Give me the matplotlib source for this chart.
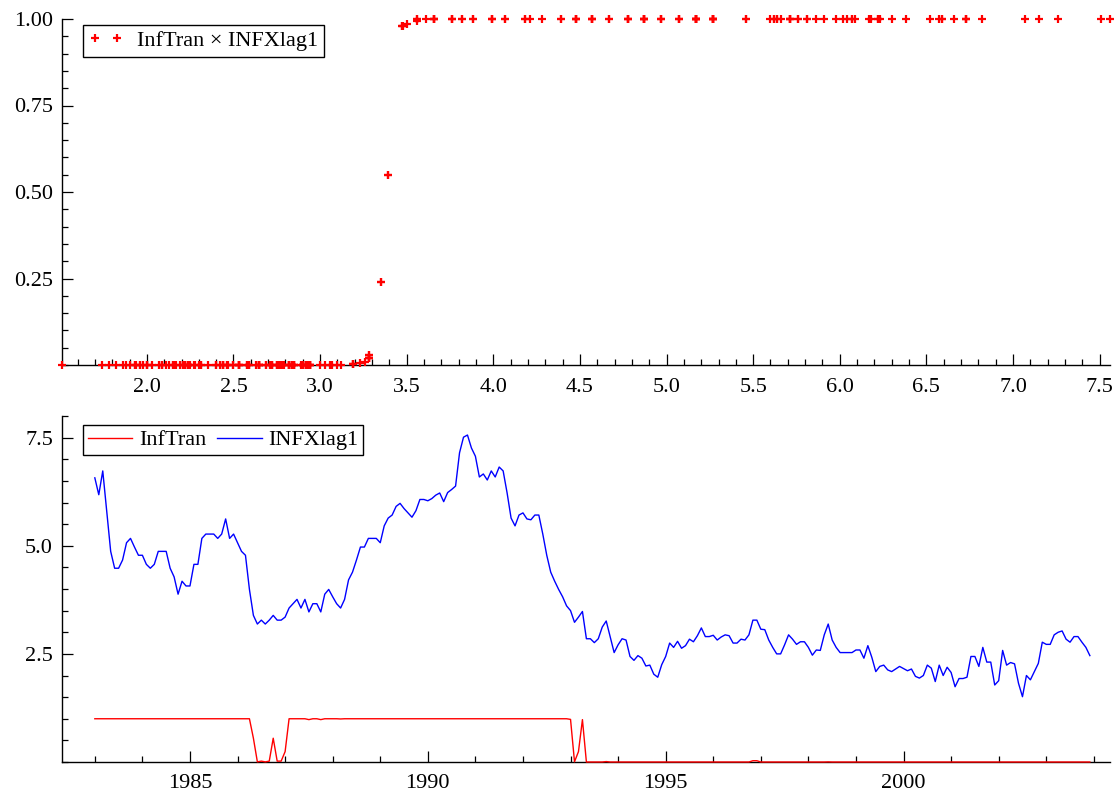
import matplotlib
matplotlib.use('Agg')
import matplotlib.pyplot as plt
from matplotlib.ticker import MultipleLocator, FixedLocator, FormatStrFormatter

# ---------------- data (monthly, Jan 1983 - Dec 2003) ----------------
start_year = 1983

infxlag1 = [
    6.57, 6.18, 6.73, 5.81, 4.87, 4.48, 4.48, 4.67, 5.07, 5.17, 4.97, 4.78,   # 1983
    4.78, 4.57, 4.48, 4.57, 4.87, 4.87, 4.87, 4.48, 4.28, 3.88, 4.18, 4.07,   # 1984
    4.07, 4.57, 4.57, 5.17, 5.27, 5.27, 5.27, 5.17, 5.27, 5.62, 5.17, 5.27,   # 1985
    5.07, 4.87, 4.78, 3.99, 3.39, 3.19, 3.28, 3.19, 3.28, 3.39, 3.28, 3.28,   # 1986
    3.35, 3.56, 3.66, 3.76, 3.56, 3.76, 3.47, 3.66, 3.66, 3.47, 3.88, 3.99,   # 1987
    3.82, 3.66, 3.56, 3.76, 4.21, 4.39, 4.67, 4.97, 4.97, 5.17, 5.17, 5.17,   # 1988
    5.07, 5.46, 5.64, 5.71, 5.91, 5.98, 5.86, 5.76, 5.66, 5.81, 6.07, 6.07,   # 1989
    6.04, 6.09, 6.17, 6.22, 6.02, 6.23, 6.30, 6.38, 7.15, 7.51, 7.56, 7.26,   # 1990
    7.07, 6.59, 6.66, 6.52, 6.73, 6.59, 6.82, 6.73, 6.22, 5.64, 5.46, 5.71,   # 1991
    5.76, 5.62, 5.60, 5.71, 5.71, 5.27, 4.78, 4.39, 4.18, 3.99, 3.82, 3.61,   # 1992
    3.50, 3.23, 3.35, 3.48, 2.85, 2.85, 2.76, 2.85, 3.12, 3.26, 2.90, 2.53,   # 1993
    2.71, 2.85, 2.82, 2.44, 2.35, 2.46, 2.40, 2.22, 2.24, 2.03, 1.96, 2.25,   # 1994
    2.44, 2.75, 2.65, 2.79, 2.63, 2.69, 2.84, 2.78, 2.92, 3.10, 2.90, 2.90,   # 1995
    2.93, 2.82, 2.89, 2.94, 2.92, 2.75, 2.75, 2.84, 2.82, 2.94, 3.28, 3.28,   # 1996
    3.07, 3.06, 2.82, 2.65, 2.50, 2.50, 2.71, 2.94, 2.84, 2.72, 2.78, 2.78,   # 1997
    2.65, 2.47, 2.59, 2.58, 2.94, 3.19, 2.82, 2.65, 2.53, 2.53, 2.53, 2.53,   # 1998
    2.59, 2.59, 2.40, 2.69, 2.42, 2.09, 2.21, 2.24, 2.13, 2.09, 2.15, 2.21,   # 1999
    2.16, 2.11, 2.15, 1.98, 1.94, 2.00, 2.24, 2.17, 1.86, 2.24, 2.00, 2.19,   # 2000
    2.07, 1.74, 1.93, 1.93, 1.96, 2.44, 2.44, 2.21, 2.65, 2.31, 2.31, 1.78,   # 2001
    1.88, 2.58, 2.24, 2.30, 2.27, 1.82, 1.51, 2.00, 1.90, 2.09, 2.28, 2.77,   # 2002
    2.72, 2.72, 2.94, 3.00, 3.03, 2.84, 2.77, 2.90, 2.90, 2.77, 2.65, 2.46,   # 2003
]

inftran = [
    1, 1, 1, 1, 1, 1, 1, 1, 1, 1, 1, 1,                                        # 1983
    1, 1, 1, 1, 1, 1, 1, 1, 1, 1, 1, 1,                                        # 1984
    1, 1, 1, 1, 1, 1, 1, 1, 1, 1, 1, 1,                                        # 1985
    1, 1, 1, 1, 0.55, 0.003, 0.02, 0.003, 0.02, 0.55, 0.02, 0.02,              # 1986
    0.24, 1, 1, 1, 1, 1, 0.98, 1, 1, 0.98, 1, 1,                               # 1987
    1, 1, 0.995, 1, 1, 1, 1, 1, 1, 1, 1, 1,                                    # 1988
    1, 1, 1, 1, 1, 1, 1, 1, 1, 1, 1, 1,                                        # 1989
    1, 1, 1, 1, 1, 1, 1, 1, 1, 1, 1, 1,                                        # 1990
    1, 1, 1, 1, 1, 1, 1, 1, 1, 1, 1, 1,                                        # 1991
    1, 1, 1, 1, 1, 1, 1, 1, 1, 1, 1, 1,                                        # 1992
    0.985, 0.005, 0.24, 0.98, 0, 0, 0, 0, 0, 0.01, 0, 0,                       # 1993
    0, 0, 0, 0, 0, 0, 0, 0, 0, 0, 0, 0,                                        # 1994
    0, 0, 0, 0, 0, 0, 0, 0, 0, 0, 0, 0,                                        # 1995
    0, 0, 0, 0, 0, 0, 0, 0, 0, 0, 0.03, 0.03,                                  # 1996
    0, 0, 0, 0, 0, 0, 0, 0, 0, 0, 0, 0,                                        # 1997
    0, 0, 0, 0, 0, 0.003, 0, 0, 0, 0, 0, 0,                                    # 1998
    0, 0, 0, 0, 0, 0, 0, 0, 0, 0, 0, 0,                                        # 1999
    0, 0, 0, 0, 0, 0, 0, 0, 0, 0, 0, 0,                                        # 2000
    0, 0, 0, 0, 0, 0, 0, 0, 0, 0, 0, 0,                                        # 2001
    0, 0, 0, 0, 0, 0, 0, 0, 0, 0, 0, 0,                                        # 2002
    0, 0, 0, 0, 0, 0, 0, 0, 0, 0, 0, 0,                                        # 2003
]

dates = [start_year + i / 12 for i in range(len(infxlag1))]

top_yticks = [0.25, 0.50, 0.75, 1.00]
bottom_yticks = [2.5, 5.0, 7.5]

# ---------------- style ----------------
plt.rcParams['font.family'] = ['Liberation Serif', 'DejaVu Serif']
plt.rcParams['font.size'] = 16

W, H = 1117, 800
fig = plt.figure(figsize=(W / 100, H / 100), dpi=100)
ax1 = fig.add_axes([62 / W, 1 - 365 / H, 1048 / W, 346 / H])
ax2 = fig.add_axes([62 / W, 1 - 762 / H, 1048 / W, 346 / H])


def style_axes(ax):
    for s in ('top', 'right'):
        ax.spines[s].set_visible(False)
    for s in ('left', 'bottom'):
        ax.spines[s].set_linewidth(1.0)
    ax.tick_params(which='major', direction='in', length=8, width=0.9,
                   labelsize=16)
    ax.tick_params(which='minor', direction='in', length=4.5, width=0.9)
    ax.tick_params(axis='x', which='major', pad=9)
    ax.tick_params(axis='y', which='major', pad=6.5)


# ---------------- top: scatter ----------------
ax1.plot(infxlag1, inftran, linestyle='none', marker='+', markersize=5.5,
         markeredgewidth=1.6, color='#ff0000', clip_on=False, zorder=3,
         label='InfTran \u00d7 INFXlag1')
ax1.set_xlim(min(infxlag1), max(infxlag1))
ax1.set_ylim(0, 1)
ax1.xaxis.set_major_locator(MultipleLocator(0.5))
ax1.xaxis.set_minor_locator(MultipleLocator(0.1))
ax1.xaxis.set_major_formatter(FormatStrFormatter('%.1f'))
ax1.yaxis.set_major_locator(FixedLocator(top_yticks))
ax1.yaxis.set_minor_locator(MultipleLocator(0.05))
ax1.yaxis.set_major_formatter(FormatStrFormatter('%.2f'))
style_axes(ax1)
leg1 = ax1.legend(loc='upper left', bbox_to_anchor=(0.02, 0.983),
                  borderaxespad=0, numpoints=2, fancybox=False,
                  edgecolor='black', framealpha=1, handlelength=1.6,
                  handletextpad=0.6, borderpad=0.25, fontsize=16)
leg1.get_frame().set_linewidth(1.0)

# ---------------- bottom: time series ----------------
ax2.plot(dates, inftran, color='#ff0000', linewidth=1.0, clip_on=False,
         zorder=3, label='InfTran')
ax2.plot(dates, infxlag1, color='#0000ff', linewidth=1.0, zorder=3,
         label='INFXlag1')
ax2.set_xlim(1982.31, 2004.34)
ax2.set_ylim(0, 8.0)
ax2.xaxis.set_major_locator(MultipleLocator(5))
ax2.xaxis.set_minor_locator(MultipleLocator(1))
ax2.xaxis.set_major_formatter(FormatStrFormatter('%d'))
ax2.yaxis.set_major_locator(FixedLocator(bottom_yticks))
ax2.yaxis.set_minor_locator(MultipleLocator(0.5))
ax2.yaxis.set_major_formatter(FormatStrFormatter('%.1f'))
style_axes(ax2)
leg2 = ax2.legend(loc='upper left', bbox_to_anchor=(0.02, 0.974),
                  borderaxespad=0, ncol=2, fancybox=False,
                  edgecolor='black', framealpha=1, handlelength=2.0,
                  handletextpad=0.3, columnspacing=0.5, borderpad=0.22,
                  fontsize=16)
leg2.get_frame().set_linewidth(1.0)

fig.savefig('out.png', dpi=100)
